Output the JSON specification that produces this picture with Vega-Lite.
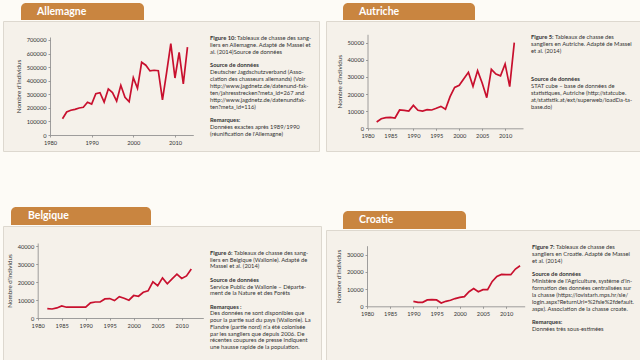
{
  "$schema": "https://vega.github.io/schema/vega-lite/v6.json",
  "background": "#fdfbf6",
  "padding": {"left": 2, "top": 3, "right": 0, "bottom": 0},
  "config": {
    "view": {"stroke": null},
    "font": "Lato",
    "text": {"fontSize": 5.8, "color": "#333", "align": "left", "baseline": "middle"},
    "axis": {
      "labelFont": "Lato", "labelFontSize": 5.7, "labelColor": "#333",
      "domainColor": "#888", "domainWidth": 0.8,
      "tickColor": "#888", "tickWidth": 0.8, "tickSize": 2,
      "labelPadding": 2, "grid": false,
      "titleFont": "Lato", "titleFontSize": 6.3, "titleFontWeight": "normal", "titleColor": "#333", "titlePadding": 5,
      "labelFlush": false, "labelOverlap": false, "labelBound": false
    }
  },
  "datasets": {
    "de": [
      {"year": 1983, "value": 120000}, {"year": 1984, "value": 169500}, {"year": 1985, "value": 182000},
      {"year": 1986, "value": 189000}, {"year": 1987, "value": 199000}, {"year": 1988, "value": 204000},
      {"year": 1989, "value": 241000}, {"year": 1990, "value": 228000}, {"year": 1991, "value": 304000},
      {"year": 1992, "value": 312000}, {"year": 1993, "value": 243000}, {"year": 1994, "value": 339000},
      {"year": 1995, "value": 312000}, {"year": 1996, "value": 250000}, {"year": 1997, "value": 366000},
      {"year": 1998, "value": 278000}, {"year": 1999, "value": 245000}, {"year": 2000, "value": 422000},
      {"year": 2001, "value": 344000}, {"year": 2002, "value": 536000}, {"year": 2003, "value": 514000},
      {"year": 2004, "value": 472000}, {"year": 2005, "value": 477000}, {"year": 2006, "value": 474000},
      {"year": 2007, "value": 258000}, {"year": 2008, "value": 462000}, {"year": 2009, "value": 673000},
      {"year": 2010, "value": 420000}, {"year": 2011, "value": 609000}, {"year": 2012, "value": 376000},
      {"year": 2013, "value": 648000}
    ],
    "at": [
      {"year": 1982, "value": 3700}, {"year": 1983, "value": 5600}, {"year": 1984, "value": 6200},
      {"year": 1985, "value": 6400}, {"year": 1986, "value": 6000}, {"year": 1987, "value": 10700},
      {"year": 1988, "value": 10500}, {"year": 1989, "value": 10100}, {"year": 1990, "value": 13400},
      {"year": 1991, "value": 10500}, {"year": 1992, "value": 10100}, {"year": 1993, "value": 10900},
      {"year": 1994, "value": 10700}, {"year": 1995, "value": 11700}, {"year": 1996, "value": 12800},
      {"year": 1997, "value": 11100}, {"year": 1998, "value": 18500}, {"year": 1999, "value": 23900},
      {"year": 2000, "value": 25100}, {"year": 2001, "value": 29000}, {"year": 2002, "value": 32700},
      {"year": 2003, "value": 24500}, {"year": 2004, "value": 33700}, {"year": 2005, "value": 26500},
      {"year": 2006, "value": 17900}, {"year": 2007, "value": 34400}, {"year": 2008, "value": 31700},
      {"year": 2009, "value": 30600}, {"year": 2010, "value": 37600}, {"year": 2011, "value": 24300},
      {"year": 2012, "value": 50000}
    ],
    "be": [
      {"year": 1982, "value": 5200}, {"year": 1983, "value": 5000}, {"year": 1984, "value": 5600},
      {"year": 1985, "value": 6700}, {"year": 1986, "value": 6000}, {"year": 1987, "value": 6000},
      {"year": 1988, "value": 6000}, {"year": 1989, "value": 6000}, {"year": 1990, "value": 6000},
      {"year": 1991, "value": 8400}, {"year": 1992, "value": 8900}, {"year": 1993, "value": 8900},
      {"year": 1994, "value": 10600}, {"year": 1995, "value": 10800}, {"year": 1996, "value": 9700},
      {"year": 1997, "value": 11900}, {"year": 1998, "value": 11000}, {"year": 1999, "value": 9900},
      {"year": 2000, "value": 12500}, {"year": 2001, "value": 12100}, {"year": 2002, "value": 14300},
      {"year": 2003, "value": 15100}, {"year": 2004, "value": 20100}, {"year": 2005, "value": 18000},
      {"year": 2006, "value": 22300}, {"year": 2007, "value": 19000}, {"year": 2008, "value": 21800},
      {"year": 2009, "value": 24400}, {"year": 2010, "value": 22000}, {"year": 2011, "value": 23400},
      {"year": 2012, "value": 27200}
    ],
    "hr": [
      {"year": 1990, "value": 2900}, {"year": 1991, "value": 2300}, {"year": 1992, "value": 2300},
      {"year": 1993, "value": 3700}, {"year": 1994, "value": 3900}, {"year": 1995, "value": 3700},
      {"year": 1996, "value": 1900}, {"year": 1997, "value": 2900}, {"year": 1998, "value": 3500},
      {"year": 1999, "value": 4500}, {"year": 2000, "value": 5200}, {"year": 2001, "value": 5600},
      {"year": 2002, "value": 8500}, {"year": 2003, "value": 10300}, {"year": 2004, "value": 8500},
      {"year": 2005, "value": 9700}, {"year": 2006, "value": 9700}, {"year": 2007, "value": 14500},
      {"year": 2008, "value": 17400}, {"year": 2009, "value": 18600}, {"year": 2010, "value": 18400},
      {"year": 2011, "value": 18400}, {"year": 2012, "value": 21700}, {"year": 2013, "value": 23600}
    ],
    "de_txt": [
      {"line": 0, "kind": "b", "text": "Figure 10:"},
      {"line": 0, "kind": "c", "text": "Tableaux de chasse des sang-"},
      {"line": 1, "kind": "n", "text": "liers en Allemagne. Adapté de Massei et"},
      {"line": 2, "kind": "n", "text": "al. (2014)Source de données"},
      {"line": 4, "kind": "b", "text": "Source de données"},
      {"line": 5, "kind": "n", "text": "Deutscher Jagdschutzverband (Asso-"},
      {"line": 6, "kind": "n", "text": "ciation des chasseurs allemands) (Voir"},
      {"line": 7, "kind": "n", "text": "http://www.jagdnetz.de/datenund-fak-"},
      {"line": 8, "kind": "n", "text": "ten/jahresstrecken?meta_id=267 and"},
      {"line": 9, "kind": "n", "text": "http://www.jagdnetz.de/datenundfak-"},
      {"line": 10, "kind": "n", "text": "ten?meta_id=116)"},
      {"line": 12, "kind": "b", "text": "Remarques:"},
      {"line": 13, "kind": "n", "text": "Données exactes après 1989/1990"},
      {"line": 14, "kind": "n", "text": "(réunification de l'Allemagne)"}
    ],
    "at_txt": [
      {"line": 0, "kind": "b", "text": "Figure 5:"},
      {"line": 0, "kind": "c", "text": "Tableaux de chasse des"},
      {"line": 1, "kind": "n", "text": "sangliers en Autriche. Adapté de Massei"},
      {"line": 2, "kind": "n", "text": "et al. (2014)"},
      {"line": 6, "kind": "b", "text": "Source de données"},
      {"line": 7, "kind": "n", "text": "STAT cube – base de données de"},
      {"line": 8, "kind": "n", "text": "statistiques, Autriche (http://statcube."},
      {"line": 9, "kind": "n", "text": "at/statistik.at/ext/superweb/loadDa-ta-"},
      {"line": 10, "kind": "n", "text": "base.do)"}
    ],
    "be_txt": [
      {"line": 0, "kind": "b", "text": "Figure 6:"},
      {"line": 0, "kind": "c", "text": "Tableaux de chasse des sang-"},
      {"line": 1, "kind": "n", "text": "liers en Belgique (Wallonie). Adapté de"},
      {"line": 2, "kind": "n", "text": "Massei et al. (2014)"},
      {"line": 4, "kind": "b", "text": "Source de données"},
      {"line": 5, "kind": "n", "text": "Service Public de Wallonie – Départe-"},
      {"line": 6, "kind": "n", "text": "ment de la Nature et des Forêts"},
      {"line": 8, "kind": "b", "text": "Remarques :"},
      {"line": 9, "kind": "n", "text": "Des données ne sont disponibles que"},
      {"line": 10, "kind": "n", "text": "pour la partie sud du pays (Wallonie). La"},
      {"line": 11, "kind": "n", "text": "Flandre (partie nord) n'a été colonisée"},
      {"line": 12, "kind": "n", "text": "par les sangliers que depuis 2006. De"},
      {"line": 13, "kind": "n", "text": "récentes coupures de presse indiquent"},
      {"line": 14, "kind": "n", "text": "une hausse rapide de la population."}
    ],
    "hr_txt": [
      {"line": 0, "kind": "b", "text": "Figure 7:"},
      {"line": 0, "kind": "c", "text": "Tableaux de chasse des"},
      {"line": 1, "kind": "n", "text": "sangliers en Croatie. Adapté de Massei"},
      {"line": 2, "kind": "n", "text": "et al. (2014)"},
      {"line": 4, "kind": "b", "text": "Source de données"},
      {"line": 5, "kind": "n", "text": "Ministère de l'Agriculture, système d'in-"},
      {"line": 6, "kind": "n", "text": "formation des données centralisées sur"},
      {"line": 7, "kind": "n", "text": "la chasse (https://lovistarh.mps.hr/sle/"},
      {"line": 8, "kind": "n", "text": "login.aspx?ReturnUrl=%2fsle%2fdefault."},
      {"line": 9, "kind": "n", "text": "aspx). Association de la chasse croate."},
      {"line": 11, "kind": "b", "text": "Remarques:"},
      {"line": 12, "kind": "n", "text": "Données très sous-estimées"}
    ]
  },
  "spacing": 3,
  "hconcat": [
    {
      "spacing": 55,
      "vconcat": [
        {
          "spacing": 0,
          "vconcat": [
            {
              "spacing": 0,
              "hconcat": [
                {"width": 18, "height": 17, "data": {"values": []}, "mark": "point"},
                {
                  "width": 123, "height": 17,
                  "data": {"values": [{"name": "Allemagne"}]},
                  "layer": [
                    {"mark": {"type": "rect", "color": "#c98540", "cornerRadiusTopLeft": 5, "cornerRadiusTopRight": 5}, "encoding": {}},
                    {"mark": {"type": "text", "color": "#ffffff", "font": "Lato", "fontWeight": "bold", "fontSize": 10.5},
                     "encoding": {"x": {"value": 16}, "text": {"field": "name"}}}
                  ]
                }
              ]
            },
            {
              "width": 316, "height": 130,
              "view": {"fill": "#f5f1ea", "stroke": "#ddd8cf"},
              "resolve": {"scale": {"y": "independent"}},
              "layer": [
                {
                  "data": {"name": "de"},
                  "mark": {"type": "line", "color": "#c8102e", "strokeWidth": 1.7},
                  "encoding": {
                    "x": {"field": "year", "type": "quantitative",
                          "scale": {"domain": [1980, 2014.4], "range": [47, 190.3], "nice": false, "zero": false},
                          "axis": {"values": [1980, 1990, 2000, 2010], "format": "d", "title": null, "offset": -16}},
                    "y": {"field": "value", "type": "quantitative",
                          "scale": {"domain": [0, 722000], "range": [114, 16], "nice": false},
                          "axis": {"values": [0, 100000, 200000, 300000, 400000, 500000, 600000, 700000], "format": "d", "title": "Nombre d'individus", "offset": -47}}
                  }
                },
                {
                  "data": {"name": "de_txt"},
                  "encoding": {
                    "y": {"field": "line", "type": "quantitative", "scale": {"domain": [0, 14], "range": [17, 113], "nice": false}, "axis": null},
                    "text": {"field": "text"}
                  },
                  "layer": [
                    {"transform": [{"filter": "datum.kind == 'b'"}],
                     "mark": {"type": "text", "fontWeight": "bold"},
                     "encoding": {"x": {"value": 207}}},
                    {"transform": [{"filter": "datum.kind == 'n'"}],
                     "mark": {"type": "text"},
                     "encoding": {"x": {"value": 207}}},
                    {"transform": [{"filter": "datum.kind == 'c'"}],
                     "mark": {"type": "text"},
                     "encoding": {"x": {"value": 234}}}
                  ]
                }
              ]
            }
          ]
        },
        {
          "spacing": 0,
          "vconcat": [
            {
              "spacing": 0,
              "hconcat": [
                {"width": 8, "height": 18, "data": {"values": []}, "mark": "point"},
                {
                  "width": 140, "height": 18,
                  "data": {"values": [{"name": "Belgique"}]},
                  "layer": [
                    {"mark": {"type": "rect", "color": "#c98540", "cornerRadiusTopLeft": 5, "cornerRadiusTopRight": 5}, "encoding": {}},
                    {"mark": {"type": "text", "color": "#ffffff", "font": "Lato", "fontWeight": "bold", "fontSize": 10.5},
                     "encoding": {"x": {"value": 17}, "text": {"field": "name"}}}
                  ]
                }
              ]
            },
            {
              "width": 318, "height": 134,
              "view": {"fill": "#f5f1ea", "stroke": "#ddd8cf"},
              "resolve": {"scale": {"y": "independent"}},
              "layer": [
                {
                  "data": {"name": "be"},
                  "mark": {"type": "line", "color": "#c8102e", "strokeWidth": 1.7},
                  "encoding": {
                    "x": {"field": "year", "type": "quantitative",
                          "scale": {"domain": [1980, 2014.5], "range": [34.7, 200.3], "nice": false, "zero": false},
                          "axis": {"values": [1980, 1985, 1990, 1995, 2000, 2005, 2010], "format": "d", "title": null, "offset": -42}},
                    "y": {"field": "value", "type": "quantitative",
                          "scale": {"domain": [0, 41700], "range": [92, 17], "nice": false},
                          "axis": {"values": [0, 10000, 20000, 30000, 40000], "format": "d", "title": "Nombre d'individus", "offset": -34.7}}
                  }
                },
                {
                  "data": {"name": "be_txt"},
                  "encoding": {
                    "y": {"field": "line", "type": "quantitative", "scale": {"domain": [0, 14], "range": [27, 121], "nice": false}, "axis": null},
                    "text": {"field": "text"}
                  },
                  "layer": [
                    {"transform": [{"filter": "datum.kind == 'b'"}],
                     "mark": {"type": "text", "fontWeight": "bold"},
                     "encoding": {"x": {"value": 207}}},
                    {"transform": [{"filter": "datum.kind == 'n'"}],
                     "mark": {"type": "text"},
                     "encoding": {"x": {"value": 207}}},
                    {"transform": [{"filter": "datum.kind == 'c'"}],
                     "mark": {"type": "text"},
                     "encoding": {"x": {"value": 231}}}
                  ]
                }
              ]
            }
          ]
        }
      ]
    },
    {
      "spacing": 59,
      "vconcat": [
        {
          "spacing": 0,
          "vconcat": [
            {
              "spacing": 0,
              "hconcat": [
                {"width": 17, "height": 17, "data": {"values": []}, "mark": "point"},
                {
                  "width": 132, "height": 17,
                  "data": {"values": [{"name": "Autriche"}]},
                  "layer": [
                    {"mark": {"type": "rect", "color": "#c98540", "cornerRadiusTopLeft": 5, "cornerRadiusTopRight": 5}, "encoding": {}},
                    {"mark": {"type": "text", "color": "#ffffff", "font": "Lato", "fontWeight": "bold", "fontSize": 10.5},
                     "encoding": {"x": {"value": 16}, "text": {"field": "name"}}}
                  ]
                }
              ]
            },
            {
              "width": 314, "height": 130,
              "view": {"fill": "#f5f1ea", "stroke": "#ddd8cf"},
              "resolve": {"scale": {"y": "independent"}},
              "layer": [
                {
                  "data": {"name": "at"},
                  "mark": {"type": "line", "color": "#c8102e", "strokeWidth": 1.7},
                  "encoding": {
                    "x": {"field": "year", "type": "quantitative",
                          "scale": {"domain": [1980, 2013.9], "range": [41.5, 197], "nice": false, "zero": false},
                          "axis": {"values": [1980, 1985, 1990, 1995, 2000, 2005, 2010], "format": "d", "title": null, "offset": -22.7}},
                    "y": {"field": "value", "type": "quantitative",
                          "scale": {"domain": [0, 54900], "range": [107.3, 13.3], "nice": false},
                          "axis": {"values": [0, 10000, 20000, 30000, 40000, 50000], "format": "d", "title": "Nombre d'individus", "offset": -41.5}}
                  }
                },
                {
                  "data": {"name": "at_txt"},
                  "encoding": {
                    "y": {"field": "line", "type": "quantitative", "scale": {"domain": [0, 10], "range": [16, 86], "nice": false}, "axis": null},
                    "text": {"field": "text"}
                  },
                  "layer": [
                    {"transform": [{"filter": "datum.kind == 'b'"}],
                     "mark": {"type": "text", "fontWeight": "bold"},
                     "encoding": {"x": {"value": 205}}},
                    {"transform": [{"filter": "datum.kind == 'n'"}],
                     "mark": {"type": "text"},
                     "encoding": {"x": {"value": 205}}},
                    {"transform": [{"filter": "datum.kind == 'c'"}],
                     "mark": {"type": "text"},
                     "encoding": {"x": {"value": 229}}}
                  ]
                }
              ]
            }
          ]
        },
        {
          "spacing": 0,
          "vconcat": [
            {
              "spacing": 0,
              "hconcat": [
                {"width": 17, "height": 18, "data": {"values": []}, "mark": "point"},
                {
                  "width": 123, "height": 18,
                  "data": {"values": [{"name": "Croatie"}]},
                  "layer": [
                    {"mark": {"type": "rect", "color": "#c98540", "cornerRadiusTopLeft": 5, "cornerRadiusTopRight": 5}, "encoding": {}},
                    {"mark": {"type": "text", "color": "#ffffff", "font": "Lato", "fontWeight": "bold", "fontSize": 10.5},
                     "encoding": {"x": {"value": 16}, "text": {"field": "name"}}}
                  ]
                }
              ]
            },
            {
              "width": 314, "height": 133,
              "view": {"fill": "#f5f1ea", "stroke": "#ddd8cf"},
              "resolve": {"scale": {"y": "independent"}},
              "layer": [
                {
                  "data": {"name": "hr"},
                  "mark": {"type": "line", "color": "#c8102e", "strokeWidth": 1.7},
                  "encoding": {
                    "x": {"field": "year", "type": "quantitative",
                          "scale": {"domain": [1980, 2014], "range": [41, 198.7], "nice": false, "zero": false},
                          "axis": {"values": [1980, 1985, 1990, 1995, 2000, 2005, 2010], "format": "d", "title": null, "offset": -56.7}},
                    "y": {"field": "value", "type": "quantitative",
                          "scale": {"domain": [0, 35300], "range": [76.3, 15.7], "nice": false},
                          "axis": {"values": [0, 10000, 20000, 30000], "format": "d", "title": "Nombre d'individus", "offset": -41}}
                  }
                },
                {
                  "data": {"name": "hr_txt"},
                  "encoding": {
                    "y": {"field": "line", "type": "quantitative", "scale": {"domain": [0, 12], "range": [17, 99], "nice": false}, "axis": null},
                    "text": {"field": "text"}
                  },
                  "layer": [
                    {"transform": [{"filter": "datum.kind == 'b'"}],
                     "mark": {"type": "text", "fontWeight": "bold"},
                     "encoding": {"x": {"value": 206}}},
                    {"transform": [{"filter": "datum.kind == 'n'"}],
                     "mark": {"type": "text"},
                     "encoding": {"x": {"value": 206}}},
                    {"transform": [{"filter": "datum.kind == 'c'"}],
                     "mark": {"type": "text"},
                     "encoding": {"x": {"value": 230}}}
                  ]
                }
              ]
            }
          ]
        }
      ]
    }
  ]
}
